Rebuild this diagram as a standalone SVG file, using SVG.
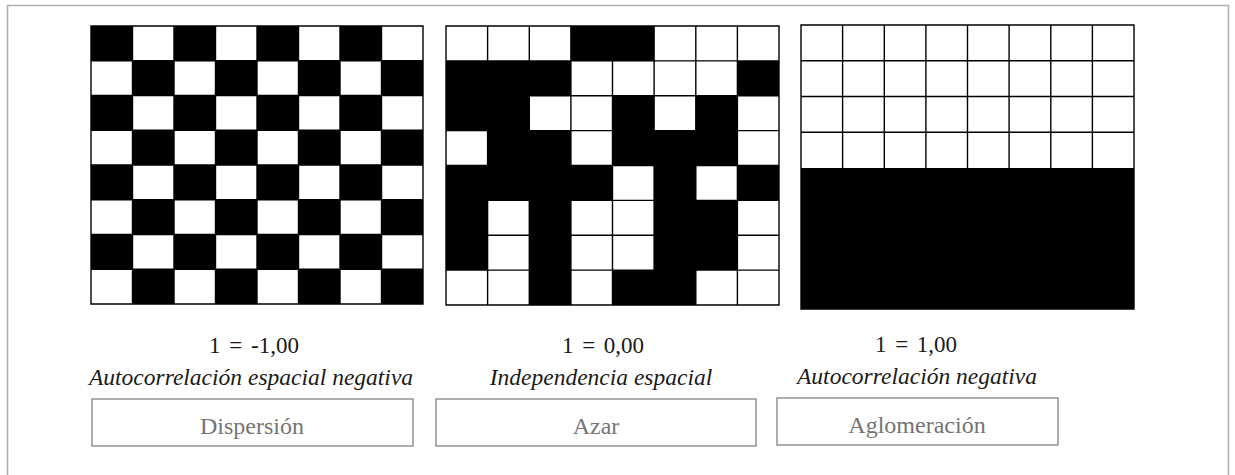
<svg xmlns="http://www.w3.org/2000/svg" width="1235" height="475" viewBox="0 0 1235 475">
<style>
.bg{fill:#ffffff}
.frame{fill:none;stroke:#b0b0b0;stroke-width:1.6}
.cells{fill:#000}
.gl{stroke:#000;stroke-width:1.4;fill:none}
.val{font-family:"Liberation Serif",serif;font-size:23px;fill:#1a1a1a;text-anchor:middle;word-spacing:3px}
.cap{font-family:"Liberation Serif",serif;font-style:italic;font-size:23.5px;fill:#1a1a1a;text-anchor:middle}
.box{fill:#fff;stroke:#8a8a8a;stroke-width:1.4}
.btxt{font-family:"Liberation Serif",serif;font-size:24px;fill:#747474;text-anchor:middle}
</style>
<rect class="bg" x="0" y="0" width="1235" height="475"/>
<path class="frame" d="M7.5,476 V5.5 H1228.5 V476"/>

<g id="grid-dispersion">
  <g transform="translate(91,26) scale(41.5,34.75)">
    <path class="cells" d="M0 0h1v1h-1zM2 0h1v1h-1zM4 0h1v1h-1zM6 0h1v1h-1z
    M1 1h1v1h-1zM3 1h1v1h-1zM5 1h1v1h-1zM7 1h1v1h-1z
    M0 2h1v1h-1zM2 2h1v1h-1zM4 2h1v1h-1zM6 2h1v1h-1z
    M1 3h1v1h-1zM3 3h1v1h-1zM5 3h1v1h-1zM7 3h1v1h-1z
    M0 4h1v1h-1zM2 4h1v1h-1zM4 4h1v1h-1zM6 4h1v1h-1z
    M1 5h1v1h-1zM3 5h1v1h-1zM5 5h1v1h-1zM7 5h1v1h-1z
    M0 6h1v1h-1zM2 6h1v1h-1zM4 6h1v1h-1zM6 6h1v1h-1z
    M1 7h1v1h-1zM3 7h1v1h-1zM5 7h1v1h-1zM7 7h1v1h-1z"/>
  </g>
  <path class="gl" d="M91,26 H423 V304 H91 Z
  M132.5,26V304 M174,26V304 M215.5,26V304 M257,26V304 M298.5,26V304 M340,26V304 M381.5,26V304
  M91,60.75H423 M91,95.5H423 M91,130.25H423 M91,165H423 M91,199.75H423 M91,234.5H423 M91,269.25H423"/>
</g>

<g id="grid-azar">
  <path class="cells" d="M570.9,26H654.1V60.9H570.9Z
  M446,60.9H570.9V95.8H446Z M737.4,60.9H779V95.8H737.4Z
  M446,95.8H529.3V130.6H446Z M612.5,95.8H654.1V130.6H612.5Z M695.8,95.8H737.4V130.6H695.8Z
  M487.6,130.6H570.9V165.5H487.6Z M612.5,130.6H737.4V165.5H612.5Z
  M446,165.5H612.5V200.4H446Z M654.1,165.5H695.8V200.4H654.1Z M737.4,165.5H779V200.4H737.4Z
  M446,200.4H487.6V270.1H446Z M529.3,200.4H570.9V305H529.3Z M654.1,200.4H737.4V270.1H654.1Z
  M612.5,270.1H695.8V305H612.5Z"/>
  <path class="gl" d="M446,26 H779 V305 H446 Z
  M487.6,26V305 M529.3,26V305 M570.9,26V305 M612.5,26V305 M654.1,26V305 M695.8,26V305 M737.4,26V305
  M446,60.9H779 M446,95.8H779 M446,130.6H779 M446,165.5H779 M446,200.4H779 M446,235.3H779 M446,270.1H779"/>
</g>

<g id="grid-aglomeracion">
  <rect class="cells" x="801" y="168" width="333" height="141"/>
  <path class="gl" d="M801,168 V25 H1134 V168
  M842.6,25V168 M884.3,25V168 M925.9,25V168 M967.5,25V168 M1009.1,25V168 M1050.8,25V168 M1092.4,25V168
  M801,60.75H1134 M801,96.5H1134 M801,132.25H1134"/>
  <path class="gl" d="M801,168 V309 H1134 V168"/>
</g>

<g id="label-dispersion">
  <text class="val" x="254" y="353">1 = -1,00</text>
  <text class="cap" x="251" y="385">Autocorrelación espacial negativa</text>
  <rect class="box" x="92" y="399" width="321" height="47"/>
  <text class="btxt" x="252" y="434">Dispersión</text>
</g>

<g id="label-azar">
  <text class="val" x="603" y="353">1 = 0,00</text>
  <text class="cap" x="601" y="385">Independencia espacial</text>
  <rect class="box" x="436" y="399" width="320" height="47"/>
  <text class="btxt" x="596" y="434">Azar</text>
</g>

<g id="label-aglomeracion">
  <text class="val" x="916" y="352">1 = 1,00</text>
  <text class="cap" x="917" y="384">Autocorrelación negativa</text>
  <rect class="box" x="777" y="398" width="281" height="47"/>
  <text class="btxt" x="917" y="433">Aglomeración</text>
</g>
</svg>
